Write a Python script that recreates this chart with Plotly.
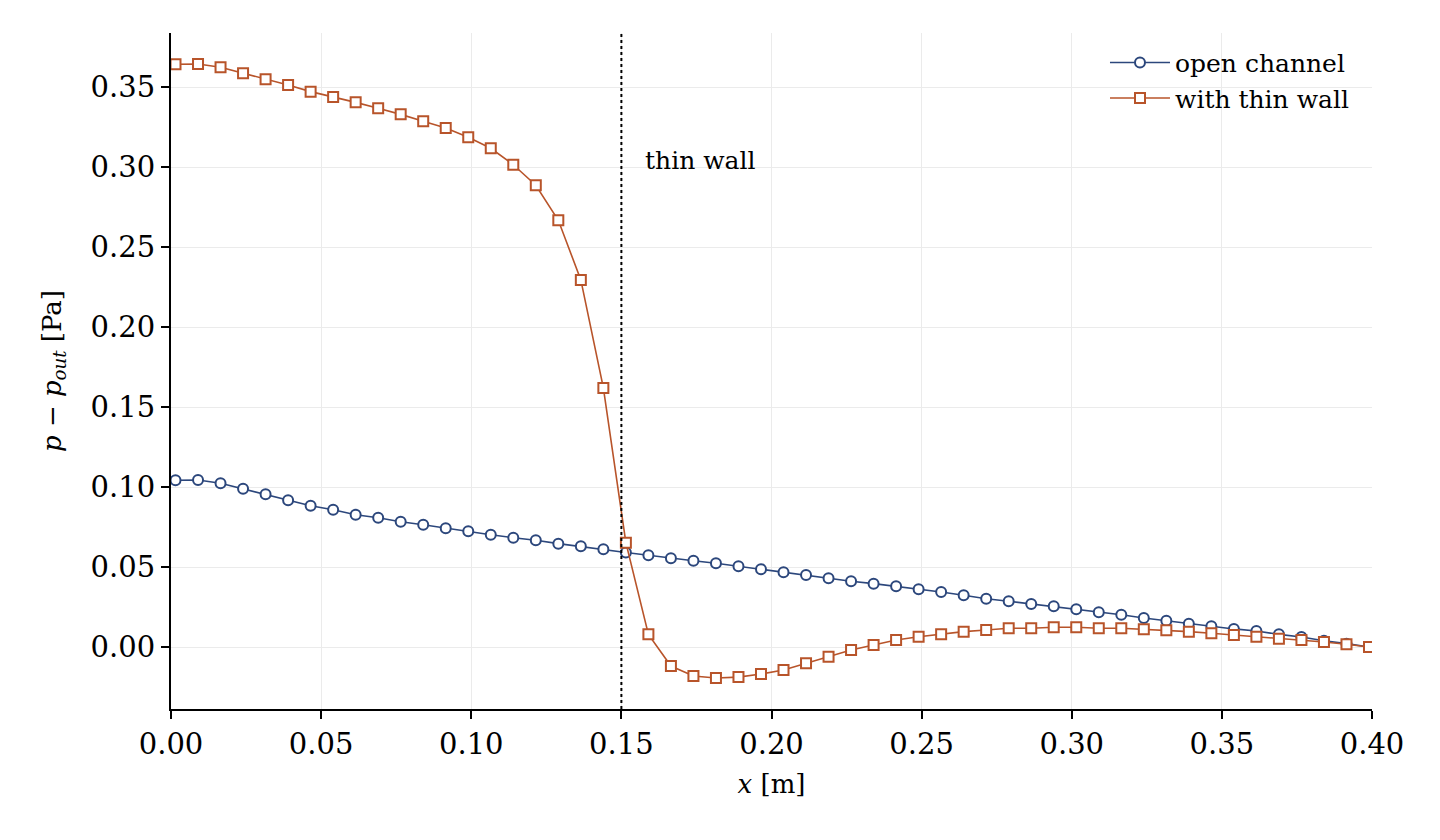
import plotly.graph_objects as go

x_pos = [0.0015, 0.009, 0.0165, 0.024, 0.0315, 0.039, 0.0465, 0.054, 0.0615, 0.069,
         0.0765, 0.084, 0.0915, 0.099, 0.1065, 0.114, 0.1215, 0.129, 0.1365, 0.144,
         0.1515, 0.159, 0.1665, 0.174, 0.1815, 0.189, 0.1965, 0.204, 0.2115, 0.219,
         0.2265, 0.234, 0.2415, 0.249, 0.2565, 0.264, 0.2715, 0.279, 0.2865, 0.294,
         0.3015, 0.309, 0.3165, 0.324, 0.3315, 0.339, 0.3465, 0.354, 0.3615, 0.369,
         0.3765, 0.384, 0.3915, 0.399]

open_channel = [0.1042, 0.1044, 0.1023, 0.0989, 0.0954, 0.0917, 0.0883, 0.0858, 0.0827, 0.0808,
                0.0783, 0.0764, 0.0742, 0.0723, 0.0702, 0.0683, 0.0667, 0.0646, 0.0629, 0.0611,
                0.0591, 0.0573, 0.0554, 0.0539, 0.0523, 0.0504, 0.0486, 0.0467, 0.0450, 0.0429,
                0.0411, 0.0396, 0.0379, 0.0361, 0.0344, 0.0323, 0.0302, 0.0286, 0.0269, 0.0254,
                0.0236, 0.0217, 0.0202, 0.0181, 0.0164, 0.0146, 0.0129, 0.0113, 0.0100, 0.0079,
                0.0063, 0.0039, 0.0021, 0.0000]

thin_wall = [0.3642, 0.3644, 0.3623, 0.3586, 0.3548, 0.3513, 0.3471, 0.3438, 0.3404, 0.3367,
             0.3329, 0.3286, 0.3244, 0.3186, 0.3117, 0.3014, 0.2886, 0.2667, 0.2294, 0.1619,
             0.0652, 0.0079, -0.0119, -0.0181, -0.0194, -0.0188, -0.0169, -0.0144, -0.0102, -0.0061,
             -0.0019, 0.0013, 0.0044, 0.0064, 0.0079, 0.0096, 0.0106, 0.0117, 0.0117, 0.0123,
             0.0123, 0.0117, 0.0117, 0.0111, 0.0104, 0.0096, 0.0086, 0.0075, 0.0064, 0.0052,
             0.0044, 0.0031, 0.0017, 0.0000]

wall_x = 0.15
x_ticks = [0.0, 0.05, 0.10, 0.15, 0.20, 0.25, 0.30, 0.35, 0.40]
y_ticks = [0.0, 0.05, 0.10, 0.15, 0.20, 0.25, 0.30, 0.35]

BLUE = "#2c477c"
RED = "#b8542a"
FONT = "DejaVu Serif"

fig = go.Figure()
fig.add_trace(go.Scatter(
    x=x_pos, y=open_channel, mode="lines+markers", name="open channel",
    line=dict(color=BLUE, width=1.6),
    marker=dict(symbol="circle", size=10, color="white", line=dict(color=BLUE, width=2)),
))
fig.add_trace(go.Scatter(
    x=x_pos, y=thin_wall, mode="lines+markers", name="with thin wall",
    line=dict(color=RED, width=1.6),
    marker=dict(symbol="square", size=10, color="white", line=dict(color=RED, width=2)),
))

fig.add_shape(type="line", x0=wall_x, x1=wall_x, y0=0, y1=1, xref="x", yref="paper",
              line=dict(color="black", width=2, dash="dot"), layer="above")
fig.add_annotation(x=0.1572, y=0.304, xref="x", yref="y", text="thin wall",
                   showarrow=False, xanchor="left", yanchor="middle",
                   font=dict(family=FONT, size=25, color="black"))

fig.update_layout(
    width=1440, height=840,
    margin=dict(l=171, r=68, t=33, b=131),
    paper_bgcolor="white", plot_bgcolor="white",
    font=dict(family=FONT, color="black"),
    showlegend=True,
    legend=dict(x=0.985, y=0.99, xanchor="right", yanchor="top",
                bgcolor="rgba(0,0,0,0)", borderwidth=0,
                font=dict(family=FONT, size=25, color="black"),
                itemwidth=60, tracegroupgap=0),
)
fig.update_xaxes(
    range=[0, 0.4], tickvals=x_ticks, ticktext=[f"{v:.2f}" for v in x_ticks],
    showgrid=True, gridcolor="#ebebeb", gridwidth=1, zeroline=False,
    showline=True, linecolor="black", linewidth=2,
    ticks="outside", ticklen=8, tickwidth=2, tickcolor="black",
    tickfont=dict(family=FONT, size=29),
    title=dict(text="<i>x</i> [m]", font=dict(family=FONT, size=26), standoff=15),
)
fig.update_yaxes(
    range=[-0.03875, 0.38375], tickvals=y_ticks, ticktext=[f"{v:.2f}" for v in y_ticks],
    showgrid=True, gridcolor="#ebebeb", gridwidth=1, zeroline=False,
    showline=True, linecolor="black", linewidth=2,
    ticks="outside", ticklen=8, tickwidth=2, tickcolor="black",
    tickfont=dict(family=FONT, size=29),
    title=dict(text="<i>p</i> − <i>p</i><sub><i>out</i></sub> [Pa]",
               font=dict(family=FONT, size=26), standoff=22),
)

fig.write_html("out.html")
